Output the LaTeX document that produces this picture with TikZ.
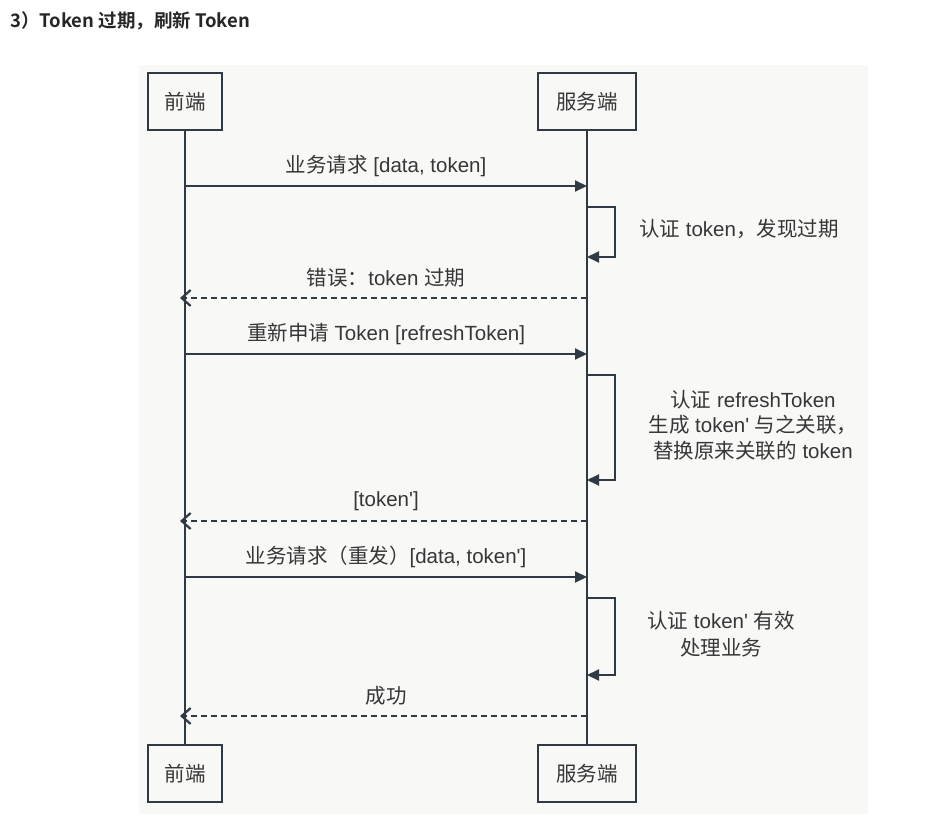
\documentclass[tikz,border=0pt]{standalone}
\usepackage{fontspec}
\setmainfont{Liberation Sans}
\newfontfamily\plainlat{Liberation Sans}
\newfontfamily\cjkfont{Noto Sans CJK SC}
\newfontfamily\cjkbold{Noto Sans CJK SC Bold}
\newcommand\zhs[1]{{\cjkfont #1}}
\newcommand\apos{{\plainlat\char"27}}
\usetikzlibrary{arrows.meta}
\definecolor{ln}{HTML}{2F3A45}
\definecolor{tx}{HTML}{363636}
\definecolor{panel}{HTML}{F8F8F7}
\tikzset{
  actor/.style={draw=ln, line width=2.4pt, fill=panel, minimum height=57pt, inner sep=0pt, font=\fontsize{20.5}{24}\selectfont\cjkfont, text=tx},
  life/.style={draw=ln, line width=2pt},
  msg/.style={draw=ln, line width=2pt, -{Triangle[length=12pt,width=11pt]}},
  ret/.style={draw=ln, line width=2pt, dash pattern=on 6pt off 4pt, -{Straight Barb[length=9pt,width=16pt,line width=2.2pt]}},
  lbl/.style={font=\fontsize{20.5}{24}\selectfont, text=tx, inner sep=0pt},
}
\begin{document}
\begin{tikzpicture}[x=1pt,y=-1pt]
\useasboundingbox (0,0) rectangle (932,826);
\fill[white] (0,0) rectangle (932,826);
\fill[panel] (139,65) rectangle (868,814);
\node[anchor=west, font=\fontsize{18.5}{22}\selectfont\cjkbold, text=black!85, inner sep=0pt] (title) at (10,21) {3）Token 过期，刷新 Token};
% actors
\node[actor, minimum width=74pt] (fa) at (185,101.5) {前端};
\node[actor, minimum width=98pt] (sa) at (587,101.5) {服务端};
\node[actor, minimum width=74pt] (fb) at (185,773.5) {前端};
\node[actor, minimum width=98pt] (sb) at (587,773.5) {服务端};
\draw[life] (fa.south) -- (fb.north);
\draw[life] (sa.south) -- (sb.north);
% lifeline points
\coordinate (f1) at (185,186); \coordinate (s1) at (587,186);
\coordinate (s2a) at (587,207); \coordinate (s2b) at (587,257);
\coordinate (f3) at (180,298); \coordinate (s3) at (587,298);
\coordinate (f4) at (185,354); \coordinate (s4) at (587,354);
\coordinate (s5a) at (587,375); \coordinate (s5b) at (587,480);
\coordinate (f6) at (180,521); \coordinate (s6) at (587,521);
\coordinate (f7) at (185,577); \coordinate (s7) at (587,577);
\coordinate (s8a) at (587,598); \coordinate (s8b) at (587,675);
\coordinate (f9) at (180,716); \coordinate (s9) at (587,716);
% messages
\draw[msg] (f1) -- (s1);
\node[lbl] (l1) at (386,166) {\zhs{业务请求} [data, token]};
\draw[msg] (s2a) -- ++(28,0) |- (s2b);
\node[lbl, anchor=west] (l2) at (639,229) {\zhs{认证} token\zhs{，发现过期}};
\draw[ret] (s3) -- (f3);
\node[lbl] (l3) at (386,278) {\zhs{错误：}token \zhs{过期}};
\draw[msg] (f4) -- (s4);
\node[lbl] (l4) at (386,334) {\zhs{重新申请} Token [refreshToken]};
\draw[msg] (s5a) -- ++(28,0) |- (s5b);
\node[lbl, align=center, font=\fontsize{20.5}{25.5}\selectfont] (l5) at (753,425) {\zhs{认证} refreshToken\\\zhs{生成} token\apos{} \zhs{与之关联，}\\\zhs{替换原来关联的} token};
\draw[ret] (s6) -- (f6);
\node[lbl] (l6) at (386,501) {[token\apos]};
\draw[msg] (f7) -- (s7);
\node[lbl] (l7) at (386,557) {\zhs{业务请求（重发）}[data, token\apos]};
\draw[msg] (s8a) -- ++(28,0) |- (s8b);
\node[lbl, align=center, font=\fontsize{20.5}{27}\selectfont] (l8) at (721,634) {\zhs{认证} token\apos{} \zhs{有效}\\\zhs{处理业务}};
\draw[ret] (s9) -- (f9);
\node[lbl] (l9) at (386,696) {\zhs{成功}};
\end{tikzpicture}
\end{document}
